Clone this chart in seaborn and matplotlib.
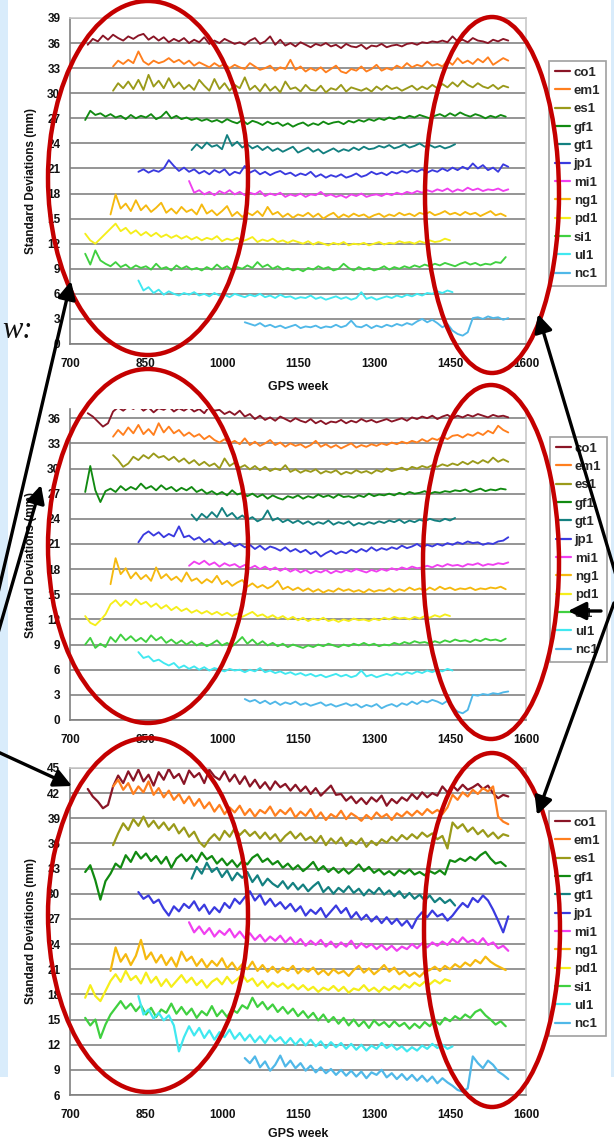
import numpy as np
import pandas as pd
import matplotlib
matplotlib.use("Agg")
import matplotlib.pyplot as plt
from matplotlib.patches import Ellipse, Rectangle
import seaborn as sns

# ---------------- data ----------------
STATIONS = ['co1', 'em1', 'es1', 'gf1', 'gt1', 'jp1', 'mi1', 'ng1', 'pd1', 'si1', 'ul1', 'nc1']
START_WEEK = [735, 785, 785, 730, 940, 835, 935, 780, 730, 730, 835, 1045]
STEP_WEEKS = 10
X_TICKS = [700, 850, 1000, 1150, 1300, 1450, 1600]

# Panel 1
P1_CO1 = [35.8,36.5,36.2,36.9,36.4,37.0,36.6,36.3,36.8,36.5,36.9,37.1,36.4,36.8,36.3,36.7,36.1,36.5,36.2,36.6,
          36.0,36.4,36.1,36.7,35.9,36.3,36.0,36.5,36.2,35.9,36.1,35.8,36.3,36.6,35.9,36.2,36.8,35.8,36.4,35.7,
          36.0,35.6,36.1,35.8,35.5,35.9,35.7,36.0,35.6,35.8,35.4,35.9,35.6,35.5,35.8,35.3,35.7,35.6,35.9,35.5,
          35.7,35.8,35.6,35.9,36.0,35.8,36.1,36.0,36.2,36.1,36.3,36.1,36.8,36.2,36.4,36.1,36.6,36.3,36.2,36.0,
          36.4,36.2,36.5,36.3]
P1_EM1 = [33.2,33.9,33.5,34.0,33.6,35.0,33.8,33.4,33.9,33.6,33.8,34.2,33.7,34.0,33.5,33.9,33.3,33.7,33.4,33.1,
          33.6,33.2,33.5,33.0,33.4,33.1,32.9,33.6,33.2,32.8,33.0,33.3,32.7,33.1,32.9,34.0,32.8,33.2,32.6,33.0,
          32.7,33.1,32.5,32.9,33.3,32.6,32.4,32.9,32.7,33.2,32.6,32.9,33.4,32.7,33.0,32.8,33.3,33.0,33.6,33.1,
          33.4,33.2,33.8,33.3,33.5,33.2,33.9,33.4,34.2,33.6,33.9,33.5,34.1,33.7,34.3,33.4,33.8,34.2,33.9]
P1_ES1 = [30.3,31.2,30.6,31.4,30.5,31.6,30.4,32.2,30.8,31.5,30.6,31.8,30.7,31.3,30.5,31.0,30.4,31.6,30.9,30.3,
          31.7,30.5,31.2,30.3,31.0,30.6,31.9,30.4,30.9,30.2,31.1,30.3,30.8,30.1,31.4,30.5,30.7,30.2,31.0,30.4,
          30.3,30.9,30.1,30.6,30.4,31.0,30.2,30.7,30.5,30.3,30.6,30.2,30.8,30.4,30.9,30.5,30.7,30.3,30.6,30.9,
          30.4,30.8,30.5,31.0,30.6,31.1,30.7,31.3,30.8,31.5,31.0,30.7,31.2,30.8,30.6,31.0,30.5,30.9,30.7]
P1_GF1 = [26.8,27.9,27.4,27.6,27.2,27.5,27.1,27.3,26.9,27.4,27.0,27.3,27.1,27.5,26.9,27.2,27.8,27.0,27.3,26.9,
          27.1,26.8,27.0,26.7,26.9,26.6,26.8,26.5,26.9,26.6,26.4,26.8,26.3,26.7,26.5,26.2,26.6,26.3,26.5,26.1,
          26.4,26.0,26.3,26.5,26.1,26.4,26.2,26.6,26.3,26.5,26.6,26.3,26.7,26.5,26.8,26.6,26.9,26.7,27.0,26.8,
          27.1,26.9,27.2,27.0,27.3,27.1,27.4,27.2,27.0,27.3,27.5,27.2,27.6,27.3,27.7,27.4,27.2,27.5,27.3,27.0,
          27.3,27.1,27.4,27.2]
P1_GT1 = [23.2,23.9,23.4,24.1,23.6,23.8,23.3,25.0,23.7,24.2,23.5,23.9,23.4,23.7,23.2,23.6,23.1,23.4,23.0,23.3,
          23.6,22.9,23.2,23.5,23.0,23.3,22.8,23.1,23.4,23.0,23.3,23.1,23.5,23.2,23.6,23.3,23.4,23.7,23.5,23.8,
          23.4,23.6,23.9,23.5,23.7,24.0,23.6,23.8,23.5,23.7,23.4,23.6,23.9]
P1_JP1 = [20.6,20.9,20.5,20.8,20.6,21.0,22.0,21.3,20.7,21.1,20.6,20.9,20.4,20.7,20.3,20.8,20.5,20.9,20.2,20.6,
          20.4,21.3,20.5,20.8,20.3,20.6,20.2,20.5,20.7,20.3,20.5,20.1,20.4,20.2,20.6,20.0,20.3,19.9,20.2,20.0,
          20.3,19.9,20.1,20.4,20.0,20.2,20.6,20.3,20.5,20.2,20.6,20.4,20.7,20.5,20.8,20.6,20.9,20.5,20.8,20.6,
          21.0,20.7,21.1,20.8,21.2,20.9,21.6,21.0,21.4,20.8,21.1,20.6,21.5,21.2]
P1_MI1 = [19.5,18.1,18.4,17.9,18.2,17.8,18.3,18.0,18.4,17.9,18.2,17.8,18.1,17.9,18.3,17.7,18.0,17.8,18.1,17.6,
          17.9,17.7,18.0,17.6,17.9,17.8,18.2,17.7,17.9,17.6,17.8,17.5,17.9,17.7,18.0,17.6,17.8,17.9,17.7,18.0,
          17.8,18.1,17.9,18.2,18.0,18.3,18.1,18.4,18.2,18.5,18.3,18.6,18.2,18.5,18.3,18.7,18.4,18.6,18.3,18.5,
          18.4,18.6,18.3,18.5]
P1_NG1 = [15.5,17.9,16.2,16.8,15.9,17.2,16.0,16.6,15.8,16.3,16.9,15.7,16.2,15.6,16.4,15.8,16.1,15.5,16.7,15.6,
          16.0,15.4,15.9,16.5,15.3,15.8,15.2,15.7,15.4,15.9,15.3,16.4,15.5,15.8,15.2,15.6,15.1,15.5,15.3,15.7,
          15.2,15.6,15.0,15.4,15.7,15.1,15.5,15.2,15.6,15.3,15.5,15.1,15.4,15.6,15.2,15.5,15.3,15.7,15.4,15.6,
          15.3,15.7,15.5,15.8,15.4,15.6,15.9,15.5,15.7,15.4,15.8,15.5,15.7,15.3,15.6,15.9,15.4,15.6,15.3]
P1_PD1 = [13.2,12.4,12.0,12.6,13.2,13.8,14.4,13.5,13.9,13.2,13.6,13.0,13.4,12.9,13.3,12.8,13.1,12.7,13.0,12.6,
          12.9,12.5,12.8,12.4,12.7,12.5,12.9,12.3,12.6,12.4,12.7,12.3,12.5,12.8,12.2,12.5,12.3,12.6,12.2,12.4,
          12.1,12.4,12.2,12.0,12.3,11.9,12.2,12.0,11.8,12.1,11.9,12.2,11.8,12.0,11.9,12.1,11.8,12.0,12.2,11.9,
          12.1,12.0,12.3,12.1,12.2,12.0,12.3,12.1,12.4,12.2,12.3,12.6,12.4]
P1_SI1 = [10.8,9.5,11.2,10.0,9.6,9.3,9.8,9.2,9.5,9.0,9.4,9.1,9.3,8.9,9.6,9.0,9.2,8.8,9.4,9.0,
          9.3,8.9,9.1,8.8,9.2,8.9,9.5,9.0,9.3,8.8,9.2,9.0,9.4,9.1,9.8,9.2,9.5,9.0,9.3,8.9,
          9.1,8.8,9.0,8.7,9.1,8.9,9.3,9.0,9.2,8.8,9.0,9.6,9.1,8.8,9.2,8.9,9.1,8.8,9.0,9.3,
          8.9,9.2,9.0,9.3,9.1,9.4,9.2,9.5,9.3,9.6,9.4,9.7,9.5,9.3,9.6,9.8,9.5,9.7,9.4,9.6,
          9.5,9.8,9.7,10.4]
P1_UL1 = [7.6,6.4,6.8,6.1,6.5,5.9,6.3,6.0,5.8,6.1,5.9,6.2,5.8,6.0,5.7,6.1,5.8,5.9,5.6,6.0,
          5.8,5.6,5.9,5.7,6.0,5.6,5.8,5.5,5.9,5.6,5.7,5.4,5.6,5.5,5.8,5.4,5.6,5.3,5.5,5.7,
          5.4,5.6,5.3,5.5,6.2,5.4,5.6,5.3,5.5,5.7,5.5,5.8,5.6,5.9,5.7,6.0,5.8,6.1,6.0,6.3,
          6.1,6.4,6.2]
P1_NC1 = [2.6,2.4,2.2,2.5,2.1,2.3,2.0,2.2,1.9,2.1,2.3,1.9,2.1,2.0,2.2,1.9,2.1,2.0,2.3,2.0,
          2.2,2.8,2.1,2.0,2.3,1.9,2.2,2.0,2.3,2.1,2.4,2.2,2.5,2.3,2.7,3.0,2.6,2.9,2.5,2.0,
          2.4,1.6,1.2,1.0,1.4,3.1,3.2,3.0,3.3,3.1,3.2,2.9,3.1]

# Panel 2
P2_CO1 = [36.6,36.2,35.6,35.0,35.4,36.8,37.3,36.9,37.4,37.1,37.5,36.9,37.3,36.7,37.2,37.0,37.4,36.8,37.2,36.9,
          37.3,36.8,37.1,36.6,37.4,36.9,37.0,36.5,36.8,36.4,36.9,36.2,36.5,35.9,36.3,35.8,36.1,35.7,36.2,35.9,
          35.6,36.0,35.7,35.5,35.9,35.4,35.7,35.3,35.6,35.5,35.8,35.4,35.7,35.5,35.9,35.6,35.8,35.5,35.7,35.9,
          35.6,35.8,36.0,35.7,36.1,35.9,36.2,36.0,36.3,35.9,36.2,36.4,36.0,36.3,36.1,36.4,36.2,36.5,36.3,36.1,
          36.4,36.2,36.3,36.1]
P2_EM1 = [33.8,34.6,34.0,34.9,34.2,35.2,34.1,34.7,34.0,35.4,34.3,35.0,34.2,34.6,33.9,34.3,33.8,34.1,33.5,33.9,
          33.4,33.1,33.5,33.0,33.3,32.9,33.6,32.8,33.2,32.7,33.0,33.4,32.8,33.1,32.6,33.0,32.7,32.9,32.5,32.8,
          33.3,32.6,32.9,32.5,32.8,32.4,32.7,33.0,32.5,32.8,32.6,32.9,32.7,33.0,32.8,33.1,32.9,33.2,33.0,33.3,
          33.1,33.5,33.2,33.6,33.4,33.8,33.5,33.9,34.0,33.7,34.1,33.9,34.3,34.0,34.5,34.2,35.1,34.6,34.3]
P2_ES1 = [31.6,31.0,30.2,30.6,31.4,31.0,31.6,31.2,31.8,31.3,31.5,31.0,31.4,30.8,31.2,30.6,31.0,30.4,30.8,30.3,
          30.6,30.0,31.2,30.3,30.7,30.1,30.4,29.9,30.3,29.8,30.2,29.7,30.0,29.8,30.4,29.6,29.9,29.5,29.8,29.6,
          29.9,29.4,29.7,29.5,29.8,29.3,29.6,29.4,29.8,29.5,29.7,29.4,29.8,29.6,30.0,29.7,29.9,30.1,29.8,30.2,
          30.0,30.3,30.1,30.4,30.2,30.5,30.3,30.6,30.4,30.8,30.5,30.9,30.6,31.0,30.7,31.3,30.8,31.1,30.8]
P2_GF1 = [27.2,30.3,27.4,26.0,27.3,27.6,27.2,27.9,27.4,27.8,27.5,28.2,27.6,27.9,27.4,28.0,27.5,27.8,27.3,27.7,
          27.4,27.8,27.2,27.5,27.0,27.3,26.9,27.2,26.8,27.4,26.9,27.1,26.7,27.0,26.6,26.9,26.4,26.8,26.5,26.3,
          26.7,26.5,26.8,26.4,26.7,26.5,26.9,26.6,26.8,26.5,26.9,26.6,26.7,26.5,26.8,26.6,27.0,26.7,26.9,26.8,
          27.0,26.8,27.1,26.9,27.2,27.0,27.1,27.3,27.0,27.2,27.1,27.3,27.2,27.4,27.3,27.5,27.2,27.4,27.6,27.3,
          27.5,27.4,27.6,27.5]
P2_GT1 = [24.5,23.8,24.6,24.1,24.8,24.2,25.3,24.3,24.7,24.0,24.4,23.9,24.2,23.7,24.0,25.0,23.8,24.1,23.6,23.9,
          23.5,23.8,23.4,23.7,23.3,23.6,23.4,23.8,23.3,23.6,23.4,23.7,23.2,23.5,23.3,23.6,23.4,23.7,23.5,23.8,
          23.6,23.9,23.5,23.8,23.6,23.9,23.7,24.0,23.8,23.7,24.0,23.8,24.1]
P2_JP1 = [21.2,22.1,22.5,22.0,22.4,21.8,22.2,21.9,23.1,21.8,22.0,21.5,21.8,21.2,21.6,21.0,21.4,20.9,21.2,20.7,
          21.0,20.6,20.9,20.4,20.8,20.3,20.7,20.5,20.2,20.6,20.1,20.4,20.0,20.3,19.8,20.1,19.5,19.9,20.2,19.8,
          20.1,19.9,20.3,20.0,20.4,20.1,20.6,20.2,20.5,20.3,20.6,20.4,20.8,20.5,20.7,21.0,20.6,20.9,20.7,21.0,
          20.8,21.1,20.9,21.2,21.0,21.3,21.1,21.2,20.9,21.1,21.0,21.3,21.4,21.8]
P2_MI1 = [18.4,18.9,18.6,19.0,18.5,18.8,18.3,18.7,18.4,18.6,18.2,18.5,18.1,18.4,18.0,18.3,17.9,18.2,17.8,18.1,
          17.7,18.0,17.6,17.9,17.5,17.8,17.6,17.9,17.5,17.8,17.6,17.9,17.7,18.0,17.8,17.6,17.9,17.7,18.0,17.8,
          18.1,17.9,18.2,18.0,18.3,18.1,18.2,18.4,18.2,18.5,18.3,18.6,18.4,18.5,18.3,18.6,18.5,18.7,18.4,18.6,
          18.5,18.7,18.6,18.8]
P2_NG1 = [16.2,19.3,17.4,18.1,16.9,17.6,16.8,17.3,16.6,18.2,16.9,17.4,16.7,17.1,16.5,17.6,16.6,16.9,16.3,16.8,
          16.4,17.2,16.2,16.6,16.0,16.4,16.7,15.9,16.3,15.8,16.1,15.7,16.0,16.6,15.6,15.9,15.5,15.8,15.4,15.7,
          15.3,15.6,15.2,15.5,15.3,15.7,15.4,15.6,15.3,15.5,15.2,15.6,15.3,15.5,15.4,15.7,15.3,15.6,15.4,15.8,
          15.5,15.7,15.4,15.8,15.5,15.9,15.6,15.8,15.5,15.7,15.6,15.8,15.5,15.7,15.6,15.8,15.7,15.9,15.6]
P2_PD1 = [12.4,11.6,11.3,11.9,12.6,13.8,14.3,13.6,14.2,13.7,14.4,13.8,14.1,13.5,13.9,13.3,13.7,13.1,13.5,13.0,
          13.3,12.8,13.1,12.7,13.0,12.6,12.9,12.5,12.8,12.4,12.7,12.3,12.6,12.9,12.4,12.6,12.2,12.5,12.1,12.4,
          12.0,12.3,11.9,12.2,11.8,12.1,11.9,12.2,11.8,12.0,11.7,12.0,11.8,12.1,11.9,12.0,11.8,12.1,11.9,12.2,
          12.0,12.3,12.1,12.2,12.0,12.3,12.1,12.4,12.2,12.5,12.3,12.6,12.4]
P2_SI1 = [9.0,9.8,8.6,9.1,8.7,9.9,9.3,10.2,9.5,10.0,9.4,9.8,9.3,10.1,9.5,9.9,9.2,9.6,9.1,9.5,
          9.0,9.4,8.9,9.2,8.8,9.1,9.5,8.9,9.2,8.8,9.3,9.9,9.1,9.6,9.0,9.4,8.9,9.2,8.8,9.1,
          8.7,9.0,8.8,8.6,8.9,8.7,9.0,8.8,9.1,8.9,8.7,9.0,8.8,9.1,8.9,9.2,8.9,9.1,8.8,9.0,
          8.9,9.2,9.0,9.3,9.1,9.4,9.2,9.3,9.1,9.4,9.2,9.5,9.3,9.6,9.4,9.5,9.3,9.6,9.4,9.7,
          9.5,9.6,9.4,9.7]
P2_UL1 = [8.1,7.4,7.6,7.0,7.2,6.8,6.5,6.8,6.2,6.5,6.1,6.4,6.0,6.3,5.9,6.2,6.0,5.8,6.1,5.9,
          6.0,5.7,6.0,5.8,6.2,5.7,5.9,5.6,5.8,5.5,5.7,5.4,5.6,5.3,5.5,5.2,5.4,5.1,5.3,5.5,
          5.2,5.4,5.1,5.3,5.9,5.2,5.4,5.1,5.3,5.5,5.3,5.6,5.4,5.7,5.5,5.8,5.6,5.9,5.7,6.0,
          5.8,6.1,5.9]
P2_NC1 = [2.5,2.2,2.4,2.0,2.3,1.9,2.2,1.8,2.1,1.9,2.2,1.8,2.0,1.7,1.9,2.1,1.7,1.9,1.6,1.8,
          2.0,1.7,1.9,1.5,1.8,1.6,1.9,1.4,1.7,1.9,1.6,2.0,1.8,2.2,1.9,2.3,2.1,2.4,2.2,1.9,
          2.3,1.5,1.0,0.8,1.2,3.0,2.9,3.1,3.0,3.2,3.1,3.3,3.4]

# Panel 3
P3_CO1 = [42.5,41.6,41.0,40.2,40.6,42.8,44.1,43.2,44.6,43.5,44.8,43.4,44.2,42.9,44.5,43.6,44.9,43.8,44.3,43.1,
          44.7,43.9,44.4,43.2,44.8,44.0,43.6,44.6,43.4,44.2,43.1,44.0,42.8,43.6,42.6,43.3,42.4,43.4,42.7,43.1,
          42.3,43.0,42.2,42.8,41.9,42.6,41.7,42.3,42.9,41.8,41.9,41.1,41.6,40.8,41.4,40.7,41.5,41.0,41.7,40.5,
          41.3,40.8,41.5,41.1,41.9,41.3,42.1,41.5,42.0,41.7,42.8,42.1,42.9,42.3,43.0,42.4,42.7,43.1,42.5,42.9,
          42.0,41.4,41.8,41.6]
P3_EM1 = [42.8,43.6,42.4,43.2,41.9,42.8,42.1,43.4,41.8,42.6,41.5,42.3,41.2,41.9,40.8,41.6,40.5,41.3,40.2,40.9,
          39.8,40.6,39.5,40.3,39.7,40.5,39.4,40.1,39.2,40.0,39.6,40.4,39.3,40.0,39.5,40.2,39.1,39.8,39.3,40.1,
          39.0,39.7,38.8,39.5,39.1,39.9,38.9,39.6,39.2,38.7,39.4,38.9,39.7,39.1,39.5,38.8,39.6,39.2,39.8,39.3,
          39.9,39.4,40.1,39.6,40.0,39.5,40.3,41.8,41.2,42.1,41.6,42.4,41.9,42.6,42.2,42.8,39.2,38.6,38.3]
P3_ES1 = [35.8,37.2,38.4,37.6,38.9,38.1,39.2,38.0,38.7,37.8,38.5,37.6,38.3,37.2,37.9,36.8,37.4,36.2,35.6,36.5,
          37.1,36.4,37.5,36.8,37.8,37.0,37.6,36.9,37.4,36.6,37.3,36.5,37.1,36.2,36.9,37.4,36.6,37.2,36.4,36.8,
          36.1,36.9,35.8,36.6,36.0,36.7,35.7,36.4,35.9,36.6,35.6,36.3,35.8,36.5,36.1,36.8,36.3,37.0,36.5,37.1,
          36.6,37.3,36.8,37.2,36.5,36.9,35.4,38.5,37.8,38.3,37.4,37.9,37.1,37.6,36.8,37.3,36.6,37.1,36.9]
P3_GF1 = [32.6,33.4,31.6,29.3,31.5,32.4,33.6,33.1,34.6,33.8,35.0,34.2,34.8,33.9,34.5,33.6,34.4,33.1,34.2,34.7,
          33.9,34.6,33.8,34.9,34.1,34.5,33.6,34.2,33.4,34.0,33.2,33.9,33.5,34.3,34.7,33.8,34.2,33.5,33.9,33.1,
          33.6,32.9,33.4,32.7,33.2,33.8,32.8,33.3,32.6,33.1,32.5,33.0,32.4,32.9,33.5,32.7,33.2,32.5,32.9,32.3,
          32.7,32.2,32.8,32.4,32.9,32.3,32.6,32.2,32.7,32.4,32.8,32.3,34.0,33.8,34.2,33.9,34.4,34.0,34.6,35.0,
          34.2,33.6,33.8,33.3]
P3_GT1 = [31.8,33.2,32.4,33.7,32.6,33.1,32.0,32.8,31.6,32.5,31.9,32.6,31.4,32.2,31.0,31.8,31.2,30.8,31.5,30.6,
          31.3,30.5,31.1,30.3,30.9,31.4,30.2,30.8,30.0,30.7,30.2,30.9,30.1,30.6,29.8,30.5,30.0,30.7,29.9,30.4,
          29.7,30.3,29.5,30.1,29.4,29.9,29.2,29.8,29.0,29.5,28.9,29.3,28.6]
P3_JP1 = [30.2,29.4,29.8,28.9,29.3,28.2,27.4,28.5,27.9,28.8,28.3,29.1,28.0,28.7,27.6,28.4,27.8,28.9,28.3,29.4,
          28.8,29.6,30.3,29.2,29.9,28.7,29.4,28.5,29.0,28.2,28.8,27.9,28.5,27.4,28.1,27.6,28.3,27.2,27.9,28.6,
          27.7,28.3,27.1,27.8,26.9,27.5,26.7,27.3,26.5,27.2,26.4,27.0,26.2,26.8,25.9,27.1,27.8,27.2,28.0,27.3,
          27.6,26.8,27.4,28.2,28.9,28.4,29.5,29.0,29.8,29.2,28.1,26.8,25.4,27.3]
P3_MI1 = [26.6,25.4,26.1,25.2,25.9,24.9,25.6,25.1,25.8,24.8,25.5,24.7,25.3,24.5,25.1,24.3,24.9,24.4,25.0,24.2,
          24.8,24.0,24.6,23.8,24.4,23.9,24.5,23.7,24.3,23.6,24.2,23.7,24.4,23.5,24.1,23.6,24.0,23.4,23.9,23.3,
          23.8,23.2,23.7,23.4,24.0,23.5,24.1,23.6,24.2,23.8,24.3,23.9,24.6,24.1,24.8,24.2,24.5,24.0,24.7,23.9,
          24.2,23.5,23.8,23.2]
P3_NG1 = [20.8,23.6,21.9,22.8,21.5,22.6,24.5,22.2,23.0,21.8,22.7,21.5,22.4,21.3,23.1,22.0,22.5,21.4,22.2,21.2,
          22.0,21.4,22.3,21.1,21.8,20.9,21.6,21.0,21.9,20.8,21.5,20.7,21.3,20.6,21.2,20.8,21.4,20.5,21.1,20.7,
          21.2,20.4,20.9,20.3,21.0,20.5,20.8,20.2,20.9,21.4,20.6,21.1,20.4,20.9,21.5,20.7,21.2,20.4,20.8,20.2,
          20.6,20.1,20.7,20.9,21.3,20.8,21.4,21.0,21.6,21.2,21.8,21.4,22.1,21.7,22.5,21.9,21.5,21.2,20.9]
P3_PD1 = [17.6,19.1,17.8,17.2,18.4,19.6,20.4,19.5,20.8,19.7,20.2,19.3,20.6,19.4,20.1,19.0,19.8,18.9,19.6,20.3,
          19.4,20.0,19.1,19.7,18.8,19.5,19.9,19.2,20.1,19.3,19.8,20.4,19.5,19.9,19.0,19.6,18.8,19.4,18.9,19.3,
          18.7,19.2,18.6,19.1,18.5,18.9,18.3,18.8,18.5,19.0,18.4,18.9,18.2,18.7,18.5,19.1,18.4,18.8,18.3,18.9,
          18.5,19.0,18.6,19.2,18.8,19.4,19.0,19.5,19.2,19.7,19.3,19.8,19.6]
P3_SI1 = [15.2,14.3,15.0,12.8,14.4,15.6,16.4,17.2,16.3,16.9,16.0,16.7,15.6,16.4,15.3,16.2,15.8,16.9,15.7,16.5,
          15.6,16.3,15.2,16.0,15.5,16.6,15.4,16.1,15.3,16.2,15.8,16.7,16.3,17.6,16.5,17.1,16.2,16.8,15.9,16.5,
          15.7,16.3,15.4,16.0,15.2,15.8,14.9,15.6,14.7,15.3,14.5,15.2,14.3,15.0,14.2,14.8,14.0,14.9,14.3,14.7,
          14.1,14.8,14.2,14.6,13.9,14.5,14.0,14.7,14.2,14.9,14.4,15.2,14.8,15.4,15.0,15.6,15.2,15.9,16.2,15.5,
          15.0,14.4,14.8,14.2]
P3_UL1 = [17.8,15.6,16.2,15.1,15.8,14.9,15.5,14.3,11.2,12.9,14.2,13.1,14.0,12.8,13.7,12.6,13.5,12.9,13.8,12.7,
          13.4,12.5,13.2,12.3,13.0,12.2,13.1,12.4,12.9,12.1,12.8,12.0,12.7,11.9,12.6,11.8,12.4,11.6,12.3,11.7,
          12.2,11.5,12.1,11.4,12.0,11.3,11.9,11.5,12.2,11.6,12.0,11.4,11.8,11.2,11.7,11.3,11.9,11.5,12.1,11.6,
          12.0,11.5,11.8]
P3_NC1 = [10.4,9.8,10.6,9.3,10.0,8.9,9.6,10.7,9.4,10.1,9.2,9.8,8.9,9.5,8.7,9.3,8.6,9.1,8.4,9.0,
          8.3,8.9,8.2,8.8,8.0,8.7,8.4,9.0,8.1,8.6,7.9,8.5,7.8,8.4,7.7,8.3,7.6,8.2,7.4,8.0,
          7.5,7.1,6.6,6.4,6.8,10.6,9.8,9.2,10.1,9.6,8.8,8.4,7.9]

PANEL_VALUES = [
    [P1_CO1, P1_EM1, P1_ES1, P1_GF1, P1_GT1, P1_JP1, P1_MI1, P1_NG1, P1_PD1, P1_SI1, P1_UL1, P1_NC1],
    [P2_CO1, P2_EM1, P2_ES1, P2_GF1, P2_GT1, P2_JP1, P2_MI1, P2_NG1, P2_PD1, P2_SI1, P2_UL1, P2_NC1],
    [P3_CO1, P3_EM1, P3_ES1, P3_GF1, P3_GT1, P3_JP1, P3_MI1, P3_NG1, P3_PD1, P3_SI1, P3_UL1, P3_NC1],
]
Y_LIMITS = [(0, 39), (0, 37.1), (6, 45)]
Y_TICKS = [list(range(0, 40, 3)), list(range(0, 37, 3)), list(range(6, 46, 3))]

COLORS = ['#8a1526', '#ff7f1e', '#9a9a1a', '#118a11', '#138080', '#3a3adf',
          '#f040f0', '#f5b90f', '#f5ee1a', '#40d040', '#40e8f0', '#50b8e8']

# ---------------- style ----------------
sns.set_style("white")
plt.rcParams['font.family'] = ['Liberation Sans', 'DejaVu Sans']
plt.rcParams['font.weight'] = 'bold'
plt.rcParams['axes.labelweight'] = 'bold'

W, H = 614, 1144
fig = plt.figure(figsize=(W / 100, H / 100), dpi=100)
fig.patch.set_facecolor('white')

# axes rectangles in pixels: (left, top, right, bottom)
AX_PX = [(70, 18, 526, 344), (70, 409, 526, 720), (70, 768, 526, 1095)]
LEG_PX = [(549, 61), (550, 437), (549, 811)]
LINE_W = [1.35, 1.35, 1.6]
XLABEL_PAD = [8, None, 5]

for i in range(3):
    l, t, r, b = AX_PX[i]
    ax = fig.add_axes([l / W, 1 - b / H, (r - l) / W, (b - t) / H])
    rows = []
    for name, start, vals in zip(STATIONS, START_WEEK, PANEL_VALUES[i]):
        for k, v in enumerate(vals):
            rows.append((name, start + STEP_WEEKS * k, v))
    df = pd.DataFrame(rows, columns=['station', 'week', 'std'])
    sns.lineplot(data=df, x='week', y='std', hue='station', hue_order=STATIONS,
                 palette=COLORS, estimator=None, sort=False, lw=LINE_W[i], ax=ax)
    ax.set_xlim(700, 1600)
    ax.set_ylim(*Y_LIMITS[i])
    ax.set_xticks(X_TICKS)
    ax.set_yticks(Y_TICKS[i])
    ax.yaxis.grid(True, color='#8c8c8c', lw=1.3)
    ax.xaxis.grid(False)
    ax.set_axisbelow(True)
    for s in ['left', 'bottom']:
        ax.spines[s].set_color('#808080')
        ax.spines[s].set_linewidth(1.2)
    for s in ['top', 'right']:
        ax.spines[s].set_color('#c8c8c8')
        ax.spines[s].set_linewidth(1.2)
    if i == 1:
        ax.spines['top'].set_visible(False)
    ax.tick_params(axis='both', direction='out', length=4, width=1, color='#808080',
                   labelsize=8.5, labelcolor='#111111')
    ax.tick_params(axis='x', pad=6)
    ax.tick_params(axis='y', pad=3)
    ax.set_ylabel('Standard Deviations (mm)', fontsize=8.5, fontweight='bold',
                  labelpad=7, color='#111111')
    if XLABEL_PAD[i] is None:
        ax.set_xlabel('')
    else:
        ax.set_xlabel('GPS week', fontsize=9, fontweight='bold', labelpad=XLABEL_PAD[i],
                      color='#111111')
    handles, labels = ax.get_legend_handles_labels()
    lx, ly = LEG_PX[i]
    leg = ax.legend(handles, labels, loc='upper left',
                    bbox_to_anchor=(lx / W, 1 - ly / H), bbox_transform=fig.transFigure,
                    fontsize=9.5, frameon=True, fancybox=False, edgecolor='#a0a0a0',
                    framealpha=1, handlelength=1.2, handletextpad=0.25,
                    labelspacing=0.46, borderpad=0.42, borderaxespad=0)
    leg.get_frame().set_linewidth(1.2)
    for ln in leg.get_lines():
        ln.set_linewidth(1.6)
    for tx in leg.get_texts():
        tx.set_fontweight('bold')

# ---------------- overlay: background strips, ellipses, arrows ----------------
ov = fig.add_axes([0, 0, 1, 1], zorder=20)
ov.set_xlim(0, W)
ov.set_ylim(H, 0)
ov.axis('off')
ov.patch.set_alpha(0)

ov.add_patch(Rectangle((0, 0), 8, 1077, facecolor='#d9ecfb', edgecolor='none', zorder=0))
ov.add_patch(Rectangle((611, 0), 3, 1077, facecolor='#d9ecfb', edgecolor='none', zorder=0))

ov.text(2, 331, 'w:', ha='left', va='center', fontsize=22, fontweight='normal',
        style='italic', family=['Liberation Serif', 'DejaVu Serif'], color='#111111')

for cx, cy, ew, eh in [(148, 178, 200, 354), (492, 195, 134, 356),
                       (148, 546, 200, 354), (491, 562, 136, 354),
                       (148, 915, 200, 354), (492, 930, 136, 354)]:
    ov.add_patch(Ellipse((cx, cy), ew, eh, fill=False, edgecolor='#c40000', lw=3.2, zorder=5))

arrow_kw = dict(arrowstyle='-|>,head_length=0.9,head_width=0.45', color='black',
                lw=2.4, mutation_scale=12, shrinkA=0, shrinkB=0)
for (x0, y0), (x1, y1) in [((-13, 640), (71, 281)),
                           ((-4, 640), (41, 485)),
                           ((-2, 752), (72, 786)),
                           ((621, 592), (538, 314)),
                           ((614, 603), (537, 815)),
                           ((601, 611), (568, 611))]:
    ov.annotate('', xy=(x1, y1), xytext=(x0, y0), arrowprops=arrow_kw,
                annotation_clip=False, zorder=6)

fig.savefig('out.png', dpi=100)
